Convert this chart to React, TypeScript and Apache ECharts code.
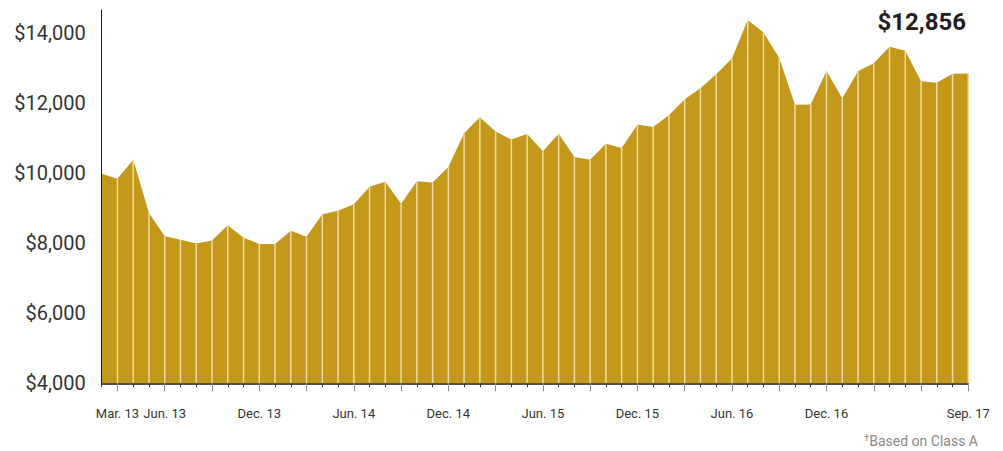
import React, { useEffect, useRef } from "react";
import * as echarts from "echarts";

const categories: string[] = [
  "Feb. 13", "Mar. 13", "Apr. 13", "May 13", "Jun. 13", "Jul. 13", "Aug. 13", "Sep. 13", "Oct. 13", "Nov. 13", "Dec. 13",
  "Jan. 14", "Feb. 14", "Mar. 14", "Apr. 14", "May 14", "Jun. 14", "Jul. 14", "Aug. 14", "Sep. 14", "Oct. 14", "Nov. 14", "Dec. 14",
  "Jan. 15", "Feb. 15", "Mar. 15", "Apr. 15", "May 15", "Jun. 15", "Jul. 15", "Aug. 15", "Sep. 15", "Oct. 15", "Nov. 15", "Dec. 15",
  "Jan. 16", "Feb. 16", "Mar. 16", "Apr. 16", "May 16", "Jun. 16", "Jul. 16", "Aug. 16", "Sep. 16", "Oct. 16", "Nov. 16", "Dec. 16",
  "Jan. 17", "Feb. 17", "Mar. 17", "Apr. 17", "May 17", "Jun. 17", "Jul. 17", "Aug. 17", "Sep. 17",
];

const values: number[] = [
  9990, 9850, 10390, 8870, 8200, 8100, 7995, 8080, 8520, 8160, 7985,
  7980, 8360, 8190, 8830, 8935, 9115, 9615, 9760, 9135, 9775, 9740, 10180,
  11145, 11605, 11200, 10965, 11125, 10630, 11135, 10465, 10390, 10850, 10725, 11395,
  11325, 11660, 12120, 12435, 12830, 13285, 14385, 14025, 13295, 11965, 11970, 12925,
  12150, 12920, 13145, 13620, 13505, 12635, 12590, 12845, 12856,
];

const shownLabels: string[] = [
  "Mar. 13", "Jun. 13", "Dec. 13", "Jun. 14", "Dec. 14", "Jun. 15", "Dec. 15", "Jun. 16", "Dec. 16", "Sep. 17",
];

const quarterMonths: string[] = ["Mar.", "Jun.", "Sep.", "Dec."];

const finalValueLabel = "$12,856";
const footnote = "Based on Class A";

const Y_MIN = 4000;
const Y_MAX = 14670;

export default function App() {
  const ref = useRef<HTMLDivElement>(null);

  useEffect(() => {
    if (!ref.current) return;
    const chart = echarts.init(ref.current, null, { renderer: "svg" });
    const isQuarter = (name: string) => quarterMonths.some((q) => name.startsWith(q));

    chart.setOption({
      animation: false,
      grid: { left: 101.7, right: 34.7, top: 10, bottom: 67.7, containLabel: false },
      xAxis: [
        {
          type: "category",
          data: categories,
          boundaryGap: false,
          z: 10,
          axisLine: { show: true, lineStyle: { color: "#1a1a1a", width: 1.5 } },
          axisTick: {
            show: true,
            length: 4,
            interval: (index: number) => !isQuarter(categories[index]),
            lineStyle: { color: "#333333", width: 1 },
          },
          axisLabel: { show: false },
          splitLine: { show: false },
        },
        {
          type: "category",
          data: categories,
          boundaryGap: false,
          position: "bottom",
          offset: 0,
          z: 11,
          axisLine: { show: false },
          axisTick: {
            show: true,
            length: 8,
            interval: (index: number) => isQuarter(categories[index]),
            lineStyle: { color: "#8c8c8c", width: 1 },
          },
          axisLabel: {
            show: true,
            interval: (index: number, value: string) => shownLabels.includes(value),
            margin: 23.5,
            fontFamily: "Roboto",
            fontSize: 13,
            color: "#333333",
          },
          splitLine: { show: false },
        },
      ],
      yAxis: {
        type: "value",
        min: Y_MIN,
        max: Y_MAX,
        interval: 2000,
        z: 10,
        axisLine: { show: true, lineStyle: { color: "#1a1a1a", width: 1 } },
        axisTick: { show: false },
        splitLine: { show: false },
        axisLabel: {
          showMaxLabel: false,
          margin: 16,
          fontFamily: "Roboto",
          fontSize: 20,
          color: "#333333",
          formatter: (v: number) => "$" + v.toLocaleString("en-US"),
        },
      },
      series: [
        {
          type: "line",
          data: values,
          xAxisIndex: 0,
          symbol: "none",
          lineStyle: { width: 0 },
          areaStyle: { color: "#C4981A", opacity: 1 },
          z: 2,
        },
        {
          type: "custom",
          xAxisIndex: 0,
          z: 3,
          data: values.map((v, i) => [i, v]),
          renderItem: (params: any, api: any) => {
            const i = api.value(0);
            if (i === 0) return null;
            const top = api.coord([i, api.value(1)]);
            const bottom = api.coord([i, Y_MIN]);
            return {
              type: "line",
              shape: { x1: top[0], y1: top[1], x2: bottom[0], y2: bottom[1] },
              style: { stroke: "#EEDC9E", lineWidth: 1.5 },
            };
          },
        },
      ],
      graphic: [
        {
          type: "text",
          right: 37,
          top: 10,
          style: {
            text: finalValueLabel,
            fontFamily: "Roboto",
            fontWeight: "bold",
            fontSize: 24,
            fill: "#231f20",
          },
        },
        {
          type: "text",
          right: 25,
          top: 433,
          style: {
            text: "{d|†}{t|" + footnote + "}",
            rich: {
              d: { fontFamily: "Roboto", fontSize: 9, fill: "#8a8a8a", verticalAlign: "top", padding: [0, 0, 6, 0] },
              t: { fontFamily: "Roboto", fontSize: 14, fill: "#8a8a8a" },
            },
          },
        },
      ],
    });

    return () => chart.dispose();
  }, []);

  return (
    <div
      ref={ref}
      style={{ position: "absolute", left: 0, top: 0, width: 1003, height: 451 }}
    />
  );
}
